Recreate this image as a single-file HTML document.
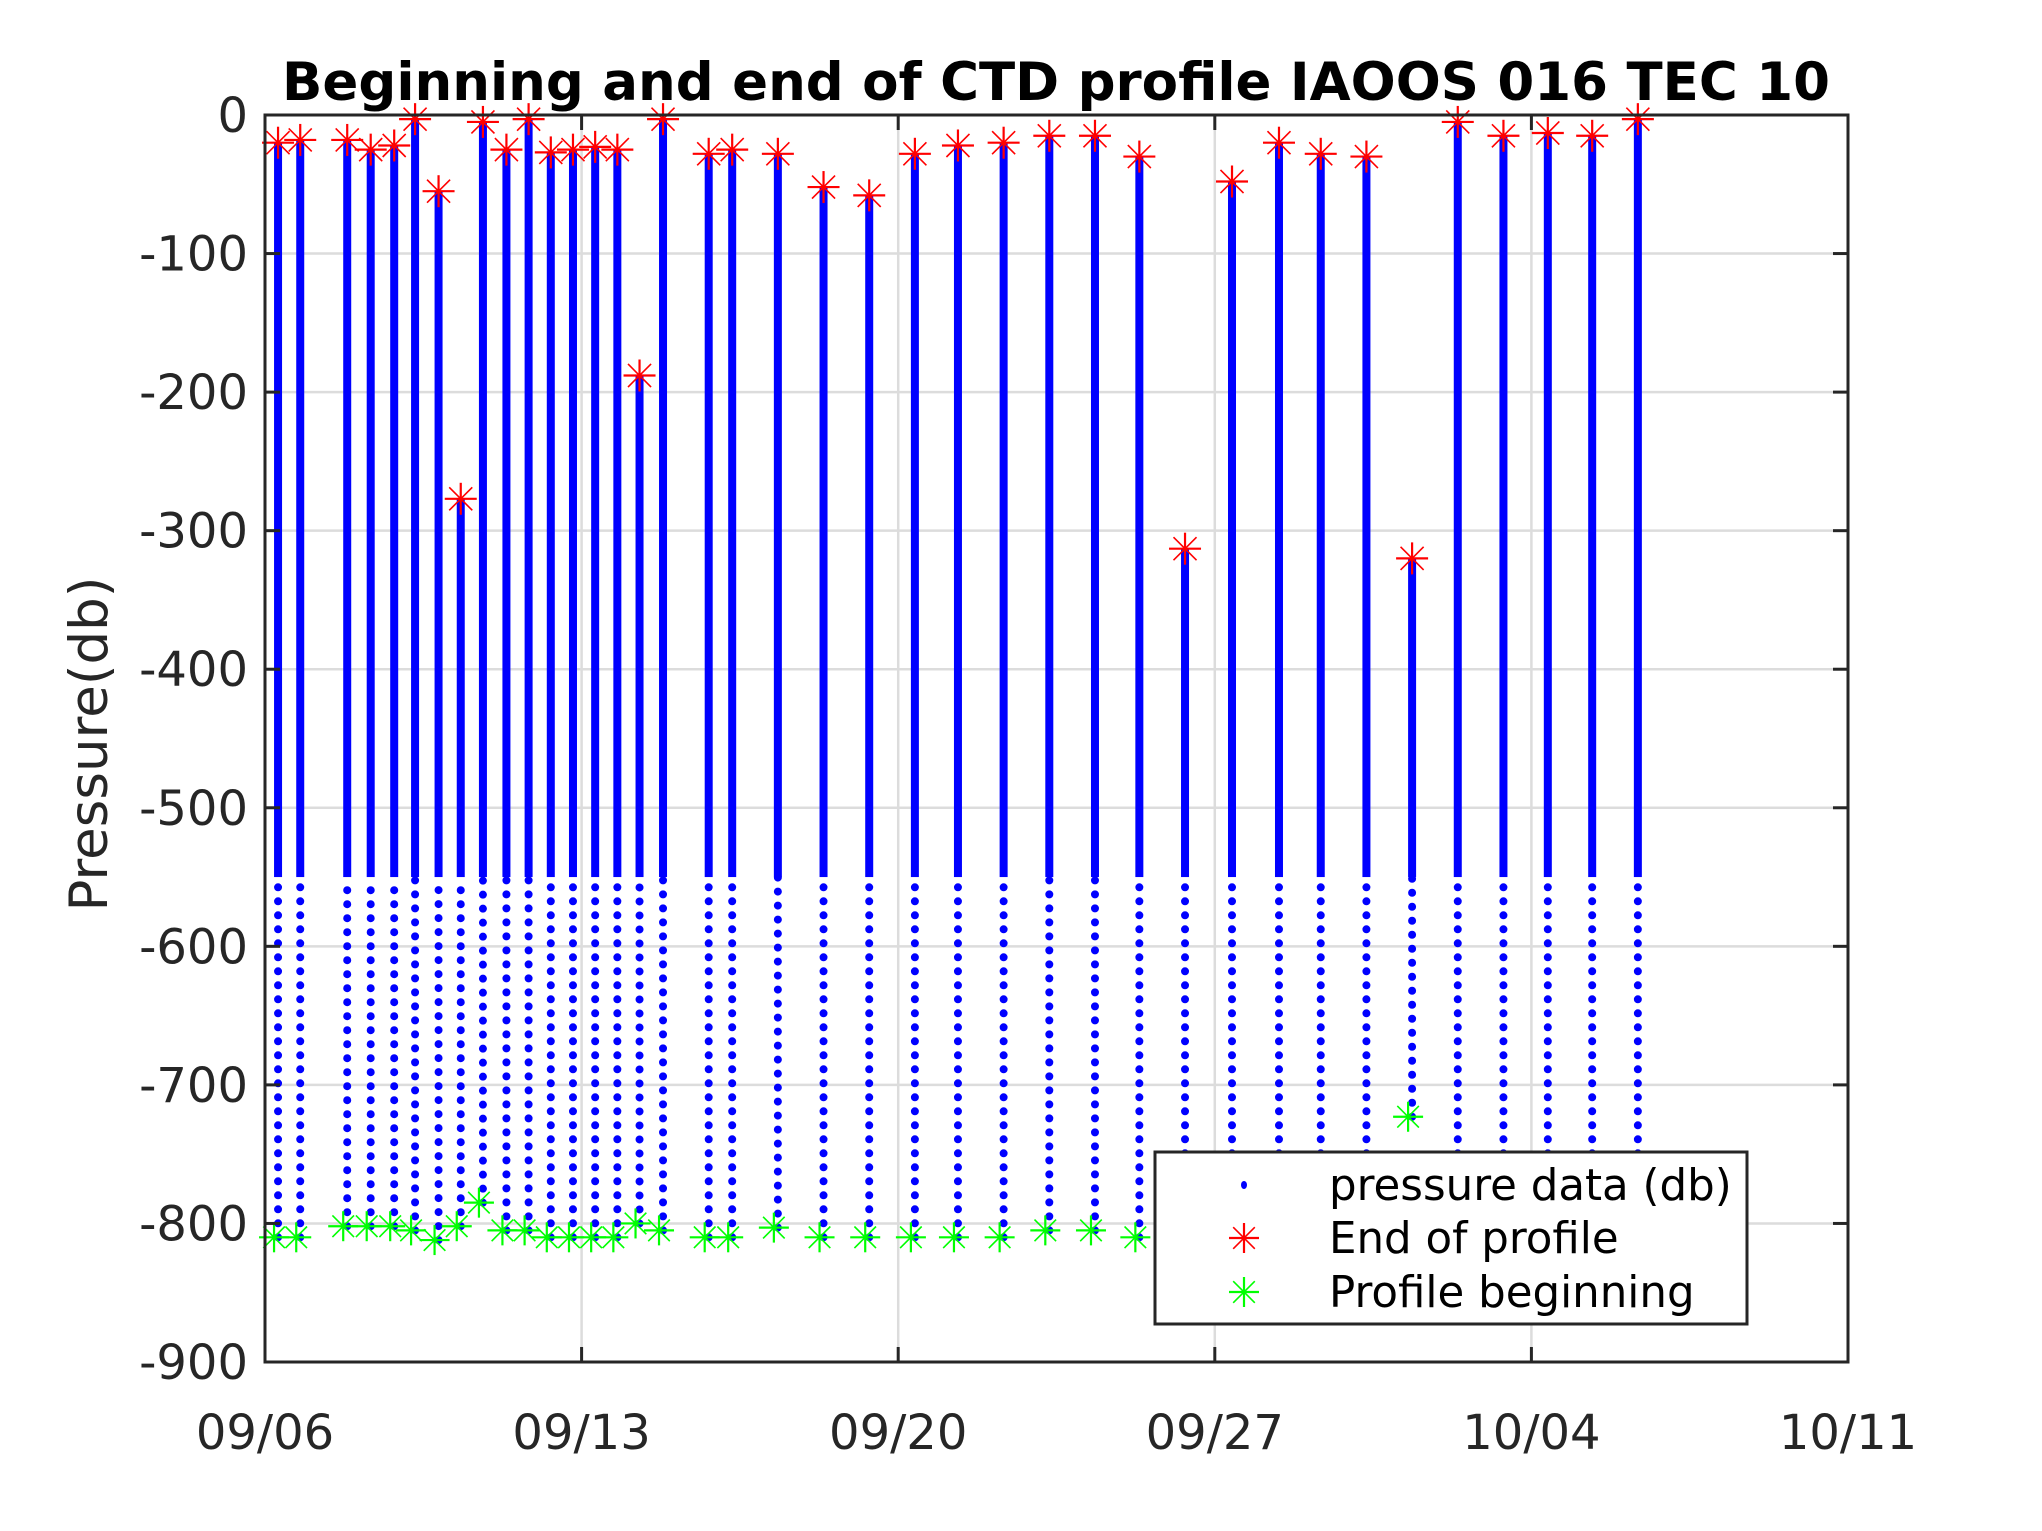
<!DOCTYPE html>
<html><head><meta charset="utf-8"><style>
html,body{margin:0;padding:0;background:#fff;}
svg{display:block;}
text{font-family:"DejaVu Sans","Liberation Sans",sans-serif;}
</style></head><body>
<svg id="s" width="2042" height="1531" xmlns="http://www.w3.org/2000/svg">
<rect width="2042" height="1531" fill="#fff"/>
<g id="grid" stroke="#dcdcdc" stroke-width="2.5"></g>
<g id="data"></g>
<g id="axes"></g>
<text x="1056" y="100" text-anchor="middle" font-size="53" font-weight="bold" fill="#000">Beginning and end of CTD profile IAOOS 016 TEC 10</text>
<text transform="translate(107,744) rotate(-90)" text-anchor="middle" font-size="53" fill="#262626">Pressure(db)</text>
<g id="leg"></g>
</svg>
<script>
(function(){
var NS="http://www.w3.org/2000/svg";
function el(p,t,a){var e=document.createElementNS(NS,t);for(var k in a)e.setAttribute(k,a[k]);p.appendChild(e);return e;}
var L=265,R=1848,T=115,B=1362;
function X(d){return L+d*(R-L)/35;}
function Y(v){return T-v*(B-T)/900;}
var g=document.getElementById('grid'),ax=document.getElementById('axes'),dg=document.getElementById('data');
for(var i=1;i<5;i++){var x=X(i*7);el(g,'line',{x1:x,y1:T,x2:x,y2:B});}
for(var v=-100;v>=-800;v-=100){el(g,'line',{x1:L,y1:Y(v),x2:R,y2:Y(v)});}
var px=[215,232,268,286,304,320,338,355,372,390,407,424,441,458,475,492,510,545,563,598,633,668,703,736,771,806,841,875,910,946,982,1014,1049,1084,1119,1154,1188,1222,1257];
var en=[-20,-18,-18,-25,-22,-3,-55,-277,-5,-25,-3,-27,-25,-23,-25,-188,-3,-28,-25,-28,-52,-58,-28,-22,-20,-15,-15,-30,-313,-48,-20,-28,-30,-320,-5,-15,-13,-15,-3];
var bg={2:-802,3:-802,4:-802,5:-805,6:-812,7:-802,8:-785,9:-805,10:-805,15:-800,16:-805,19:-803,25:-805,26:-805,33:-723};
function star(p,x,y,c,s){var d=s*0.72;
el(p,'line',{x1:x-s,y1:y,x2:x+s,y2:y,stroke:c,'stroke-width':2.2});
el(p,'line',{x1:x,y1:y-s,x2:x,y2:y+s,stroke:c,'stroke-width':2.2});
el(p,'line',{x1:x-d,y1:y-d,x2:x+d,y2:y+d,stroke:c,'stroke-width':1.6});
el(p,'line',{x1:x-d,y1:y+d,x2:x+d,y2:y-d,stroke:c,'stroke-width':1.6});}
var greens=[];
for(var i=0;i<px.length;i++){
 var x=265+(px[i]-205)*1.305;
 var b=(bg[i]!==undefined)?bg[i]:-810;
 var ye=Y(en[i]), yb=Y(b), ym=Y(-550);
 var ytop=Math.max(ym,ye);
 el(dg,'line',{x1:x,y1:yb,x2:x,y2:ytop,stroke:'#0000ff','stroke-width':8,'stroke-linecap':'round','stroke-dasharray':'0 14'});
 if(ye<ym) el(dg,'rect',{x:x-4,y:ye,width:8,height:ym-ye,fill:'#0000ff'});
 greens.push([x-4,yb]);
}
for(var i=0;i<greens.length;i++) star(dg,greens[i][0],greens[i][1],'#00ff00',15);
for(var i=0;i<px.length;i++){var x=265+(px[i]-205)*1.305;star(dg,x,Y(en[i]),'#ff0000',16);}
el(ax,'rect',{x:L,y:T,width:R-L,height:B-T,fill:'none',stroke:'#262626','stroke-width':3});
var labs=['09/06','09/13','09/20','09/27','10/04','10/11'];
for(var i=0;i<6;i++){var x=X(i*7);
 el(ax,'line',{x1:x,y1:B,x2:x,y2:B-15,stroke:'#262626','stroke-width':3});
 el(ax,'line',{x1:x,y1:T,x2:x,y2:T+15,stroke:'#262626','stroke-width':3});
 var t=el(ax,'text',{x:x,y:1449,'text-anchor':'middle','font-size':48,fill:'#262626'});t.textContent=labs[i];}
for(var v=0;v>=-900;v-=100){var y=Y(v);
 el(ax,'line',{x1:L,y1:y,x2:L+15,y2:y,stroke:'#262626','stroke-width':3});
 el(ax,'line',{x1:R,y1:y,x2:R-15,y2:y,stroke:'#262626','stroke-width':3});
 var t=el(ax,'text',{x:248,y:y+17,'text-anchor':'end','font-size':48,fill:'#262626'});t.textContent=String(v);}
var lg=document.getElementById('leg');
el(lg,'rect',{x:1155,y:1152,width:592,height:172,fill:'#fff',stroke:'#262626','stroke-width':3});
el(lg,'ellipse',{cx:1244,cy:1185,rx:3,ry:4,fill:'#0000ff'});
star(lg,1244,1238,'#ff0000',15);
star(lg,1244,1292,'#00ff00',15);
var tx=['pressure data (db)','End of profile','Profile beginning'],ty=[1185,1238,1292];
for(var i=0;i<3;i++){var t=el(lg,'text',{x:1329,y:ty[i]+15,'font-size':43.5,fill:'#000'});t.textContent=tx[i];}
})();
</script>
</body></html>
